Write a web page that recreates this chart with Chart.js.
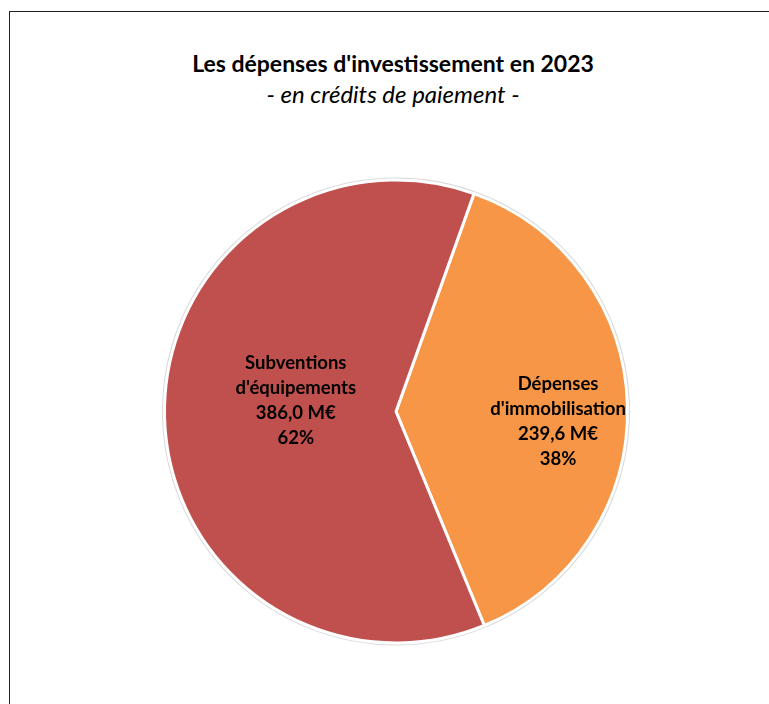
<!DOCTYPE html>
<html>
<head>
<meta charset="utf-8">
<script src="https://cdn.jsdelivr.net/npm/chart.js@4.4.1/dist/chart.umd.min.js"></script>
<style>
  html, body { margin: 0; padding: 0; background: #fff; overflow: hidden; }
  #wrap { position: relative; width: 769px; height: 704px; }
  #frame { position: absolute; left: 9px; top: 11px; width: 800px; height: 800px; border: 1px solid #222; box-sizing: border-box; }
  #chart-pie { position: absolute; left: 0; top: 0; }
  .title { position: absolute; left: 0; width: 786px; text-align: center; font-family: Lato, "Open Sans", sans-serif; color: #000; line-height: 1; }
  #t1 { top: 52px; font-weight: bold; font-size: 23px; }
  #t2 { top: 82px; font-style: italic; font-size: 24px; }
</style>
</head>
<body>
<div id="wrap">
  <div id="frame"></div>
  <div class="title" id="t1">Les dépenses d'investissement en 2023</div>
  <div class="title" id="t2">- en crédits de paiement -</div>
  <canvas id="chart-pie" width="769" height="704"></canvas>
</div>
<script>
// Chart data
const CATEGORIES = ["Dépenses d'immobilisation", "Subventions d'équipements"];
const LABEL_LINES = [["Dépenses", "d'immobilisation"], ["Subventions", "d'équipements"]];
const AMOUNTS = [239.6, 386.0];
const AMOUNT_TEXT = ["239,6 M€", "386,0 M€"];
const PERCENT_TEXT = ["38%", "62%"];
const COLORS = ["#F79646", "#C0504D"];
// label centre, as a fraction of the radius from the pie centre
const LABEL_OFFSET = [[0.70, 0.043], [-0.433, -0.047]];

const CHART_WRAPPER = document.getElementById("chart-pie");

// faint grey rim around the pie
const rimPlugin = {
  id: "rim",
  beforeDatasetsDraw(chart) {
    const arc = chart.getDatasetMeta(0).data[0];
    if (!arc) return;
    const { ctx } = chart;
    ctx.save();
    ctx.beginPath();
    ctx.arc(arc.x, arc.y, arc.outerRadius + 1.5, 0, Math.PI * 2);
    ctx.strokeStyle = "rgba(0,0,0,0.15)";
    ctx.lineWidth = 2;
    ctx.stroke();
    ctx.restore();
  },
};

// slice labels
const labelPlugin = {
  id: "sliceLabels",
  afterDatasetsDraw(chart) {
    const { ctx } = chart;
    chart.getDatasetMeta(0).data.forEach((arc, i) => {
      const x = arc.x + LABEL_OFFSET[i][0] * arc.outerRadius;
      const y = arc.y + LABEL_OFFSET[i][1] * arc.outerRadius;
      const lines = [...LABEL_LINES[i], AMOUNT_TEXT[i], PERCENT_TEXT[i]];
      const lh = 24.8;
      ctx.save();
      ctx.font = "bold 18.5px Lato, 'Open Sans', sans-serif";
      ctx.fillStyle = "#000";
      ctx.textAlign = "center";
      ctx.textBaseline = "middle";
      lines.forEach((t, k) => {
        ctx.fillText(t, x, y + (k - (lines.length - 1) / 2) * lh);
      });
      ctx.restore();
    });
  },
};

const DATA = {
  labels: CATEGORIES,
  datasets: [
    {
      data: AMOUNTS,
      backgroundColor: COLORS,
      hoverBackgroundColor: COLORS,
      borderColor: "#fff",
      borderWidth: 3,
    },
  ],
};

const CONFIG = {
  type: "pie",
  data: DATA,
  options: {
    responsive: false,
    animation: false,
    rotation: 19.7,
    layout: {
      padding: { left: 163, right: 140, top: 178, bottom: 59 },
    },
    plugins: {
      legend: { display: false },
      title: { display: false },
      tooltip: { enabled: false },
    },
  },
  plugins: [rimPlugin, labelPlugin],
};

new Chart(CHART_WRAPPER, CONFIG);
</script>
</body>
</html>
